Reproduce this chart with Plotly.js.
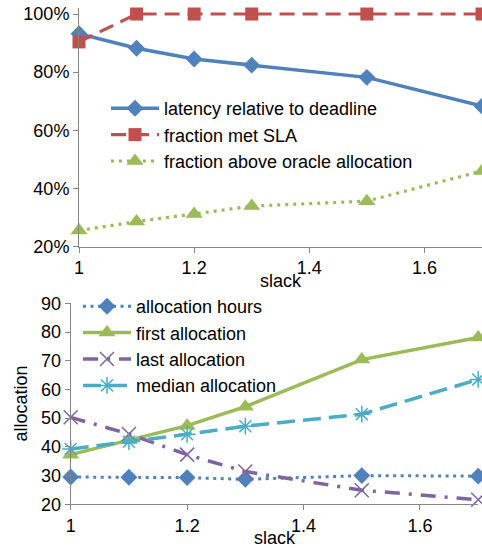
<!DOCTYPE html>
<html>
<head>
<meta charset="utf-8">
<script src="https://cdn.plot.ly/plotly-3.0.1.min.js"></script>
<style>html,body{margin:0;padding:0;background:#fff;}#chart{width:482px;height:548px;}</style>
</head>
<body>
<div id="chart"></div>
<script>
// Top panel data (percent)
const slack = [1.0, 1.1, 1.2, 1.3, 1.5, 1.7];
const latencyRel = [93.2, 88.2, 84.5, 82.4, 78.2, 68.3];
const fractionMetSLA = [90.4, 100, 100, 100, 100, 100];
const fractionAboveOracle = [25.5, 28.6, 31.2, 33.9, 35.6, 46.0];
// Bottom panel data
const allocationHours = [29.5, 29.4, 29.3, 28.7, 30.0, 29.8];
const firstAllocation = [37.3, 42.3, 47.4, 54.0, 70.4, 78.1];
const lastAllocation = [50.3, 44.5, 37.3, 31.4, 24.9, 21.6];
const medianAllocation = [39.3, 41.8, 44.4, 47.2, 51.4, 63.5];
const topYTicks = [20, 40, 60, 80, 100];
const topYTickLabels = ['20%', '40%', '60%', '80%', '100%'];
const bottomYTicks = [20, 30, 40, 50, 60, 70, 80, 90];
const xTicks = [1, 1.2, 1.4, 1.6];
const xTickLabels = ['1', '1.2', '1.4', '1.6'];

const BLUE = '#4F81BD', RED = '#C0504D', GREEN = '#9BBB59', PURPLE = '#8064A2', CYAN = '#4BACC6';
const FONT = 'Liberation Sans, Arial, sans-serif';

const traces = [
  {x: slack, y: latencyRel, name: 'latency relative to deadline', xaxis: 'x', yaxis: 'y', legend: 'legend',
   mode: 'lines+markers', line: {color: BLUE, width: 3.5}, marker: {symbol: 'diamond', size: 13, color: BLUE}, cliponaxis: false},
  {x: slack, y: fractionMetSLA, name: 'fraction met SLA', xaxis: 'x', yaxis: 'y', legend: 'legend',
   mode: 'lines+markers', line: {color: RED, width: 3.2, dash: '15px,8px'}, marker: {symbol: 'square', size: 13, color: RED}, cliponaxis: false},
  {x: slack, y: fractionAboveOracle, name: 'fraction above oracle allocation', xaxis: 'x', yaxis: 'y', legend: 'legend',
   mode: 'lines+markers', line: {color: GREEN, width: 3.2, dash: '3px,5px'}, marker: {symbol: 'triangle-up', size: 15, color: GREEN}, cliponaxis: false},
  {x: slack, y: allocationHours, name: 'allocation hours', xaxis: 'x2', yaxis: 'y2', legend: 'legend2',
   mode: 'lines+markers', line: {color: BLUE, width: 3, dash: '3px,4.5px'}, marker: {symbol: 'diamond', size: 13, color: BLUE}, cliponaxis: false},
  {x: slack, y: firstAllocation, name: 'first allocation', xaxis: 'x2', yaxis: 'y2', legend: 'legend2',
   mode: 'lines+markers', line: {color: GREEN, width: 3.5}, marker: {symbol: 'triangle-up', size: 15, color: GREEN}, cliponaxis: false},
  {x: slack, y: lastAllocation, name: 'last allocation', xaxis: 'x2', yaxis: 'y2', legend: 'legend2',
   mode: 'lines+markers', line: {color: PURPLE, width: 3.5, dash: '15px,9px,3px,9px'}, marker: {symbol: 'x-thin-open', size: 14, color: PURPLE, line: {color: PURPLE, width: 1.5}}, cliponaxis: false},
  {x: slack, y: medianAllocation, name: 'median allocation', xaxis: 'x2', yaxis: 'y2', legend: 'legend2',
   mode: 'lines+markers', line: {color: CYAN, width: 3.5, dash: '18px,8px'}, marker: {symbol: 'asterisk-open', size: 14, color: CYAN, line: {color: CYAN, width: 1.5}}, cliponaxis: false}
];

const axisCommon = {
  showgrid: false, zeroline: false, showline: true, linecolor: '#868686', linewidth: 1,
  ticks: 'outside', ticklen: 5, tickcolor: '#868686', tickwidth: 1, tickmode: 'array',
  tickfont: {family: FONT, size: 18, color: '#000'}, fixedrange: true
};

const layout = {
  width: 482, height: 548,
  margin: {l: 0, r: 0, t: 0, b: 0},
  paper_bgcolor: '#fff', plot_bgcolor: 'rgba(0,0,0,0)',
  font: {family: FONT, size: 18, color: '#000'},
  xaxis: Object.assign({}, axisCommon, {domain: [79/482, 1], range: [1, 1.7], tickvals: xTicks, ticktext: xTickLabels, anchor: 'y'}),
  yaxis: Object.assign({}, axisCommon, {domain: [1 - 246.5/548, 1 - 8.2/548], range: [20, 102], tickvals: topYTicks, ticktext: topYTickLabels, anchor: 'x'}),
  xaxis2: Object.assign({}, axisCommon, {domain: [70.7/482, 478.2/482], range: [1, 1.7], tickvals: xTicks, ticktext: xTickLabels, anchor: 'y2',
    title: {text: 'slack', font: {family: FONT, size: 18, color: '#000'}, standoff: 0}}),
  yaxis2: Object.assign({}, axisCommon, {domain: [1 - 504.3/548, 1 - 302.5/548], range: [20, 90.3], tickvals: bottomYTicks, anchor: 'x2',
    title: {text: 'allocation', font: {family: FONT, size: 18, color: '#000'}, standoff: 8}}),
  annotations: [{text: 'slack', xref: 'paper', yref: 'paper', x: (79 + 482) / 2 / 482, y: 1 - 281/548,
    xanchor: 'center', yanchor: 'middle', showarrow: false, font: {family: FONT, size: 18, color: '#000'}}],
  legend: {x: 106/482, y: 1 - 90/548, xanchor: 'left', yanchor: 'top', bgcolor: 'rgba(0,0,0,0)', borderwidth: 0,
    font: {family: FONT, size: 18, color: '#000'}, itemwidth: 48, tracegroupgap: 0},
  legend2: {x: 78/482, y: 1 - 288/548, xanchor: 'left', yanchor: 'top', bgcolor: 'rgba(0,0,0,0)', borderwidth: 0,
    font: {family: FONT, size: 18, color: '#000'}, itemwidth: 48, tracegroupgap: 0},
  showlegend: true
};

Plotly.newPlot('chart', traces, layout, {displayModeBar: false, staticPlot: true});
</script>
</body>
</html>
